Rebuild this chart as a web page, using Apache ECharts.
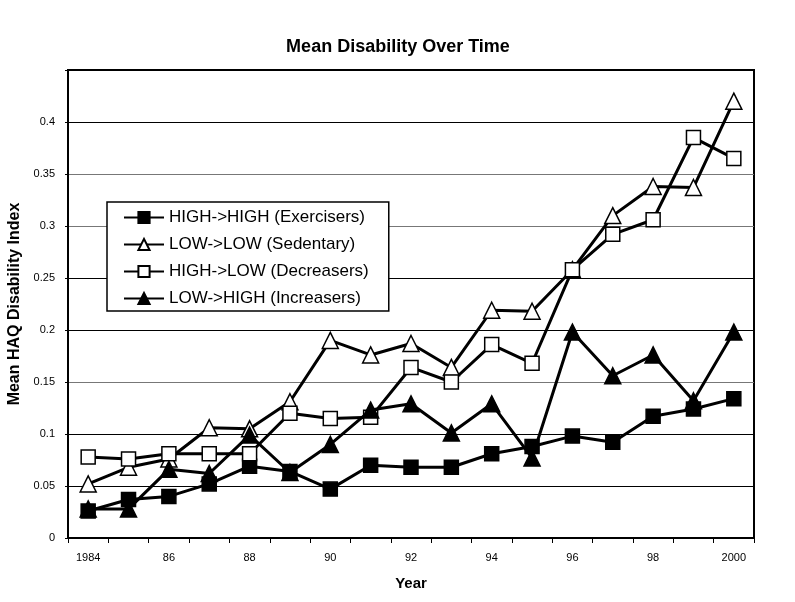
<!DOCTYPE html>
<html><head><meta charset="utf-8">
<script src="https://cdn.jsdelivr.net/npm/echarts@6/dist/echarts.min.js"></script>
<style>html,body{margin:0;padding:0;background:#fff}#c{width:795px;height:602px}</style>
</head><body><div id="c"></div>
<script>
const years = ['1984','1985','1986','1987','1988','1989','1990','1991','1992','1993','1994','1995','1996','1997','1998','1999','2000'];
const yTicks = [0,0.05,0.1,0.15,0.2,0.25,0.3,0.35,0.4];
const exercisers = [0.026,0.037,0.040,0.052,0.069,0.064,0.047,0.070,0.068,0.068,0.081,0.088,0.098,0.092,0.117,0.124,0.134];
const sedentary  = [0.052,0.068,0.076,0.106,0.105,0.131,0.190,0.176,0.187,0.164,0.219,0.218,0.258,0.310,0.338,0.337,0.420];
const decreasers = [0.078,0.076,0.081,0.081,0.081,0.120,0.115,0.116,0.164,0.150,0.186,0.168,0.258,0.292,0.306,0.385,0.365];
const increasers = [0.028,0.028,0.066,0.062,0.099,0.063,0.090,0.123,0.129,0.101,0.129,0.077,0.198,0.156,0.176,0.132,0.198];
const names = ['HIGH->HIGH (Exercisers)','LOW->LOW (Sedentary)','HIGH->LOW (Decreasers)','LOW->HIGH (Increasers)'];

const font = 'Liberation Sans, Arial, sans-serif';
function mk(name, data, symbol, filled, size){
  return {name, type:'line', data, symbol, symbolSize:size,
    lineStyle:{color:'#000', width:3},
    itemStyle:{color: filled?'#000':'#fff', borderColor:'#000', borderWidth:1.5},
    emphasis:{disabled:true}, animation:false, z: 3};
}
const chart = echarts.init(document.getElementById('c'), null, {renderer:'canvas'});
chart.setOption({
  animation:false,
  backgroundColor:'#fff',
  title:{text:'Mean Disability Over Time', left:393, top:33, textAlign:'center',
    textStyle:{fontFamily:font, fontSize:18, fontWeight:'bold', color:'#000'}},
  grid:{left:68, right:41, top:70, bottom:64, outerBoundsMode:'none', containLabel:false,
    show:true, borderColor:'#000', borderWidth:2, backgroundColor:'transparent'},
  legend:{orient:'vertical', left:107, top:202, padding:[7,20,4,16],
    itemWidth:40, itemHeight:14, itemGap:10,
    backgroundColor:'#fff', borderColor:'#000', borderWidth:1.5,
    textStyle:{fontFamily:font, fontSize:17, color:'#000'},
    data:names},
  xAxis:{type:'category', data:years, boundaryGap:true,
    name:'Year', nameLocation:'middle', nameGap:38,
    nameTextStyle:{fontFamily:font, fontSize:15, fontWeight:'bold', color:'#000'},
    axisLine:{lineStyle:{color:'#000', width:2}},
    axisTick:{show:true, alignWithLabel:false, interval:0, length:5, lineStyle:{color:'#000', width:1}},
    axisLabel:{interval:1, margin:14, fontFamily:font, fontSize:11, color:'#000',
      formatter:(v)=> (v==='1984'||v==='2000')? v : v.slice(2)}},
  yAxis:{type:'value', min:0, max:0.45, interval:0.05,
    name:'Mean HAQ Disability Index', nameLocation:'middle', nameGap:39, nameRotate:90,
    nameTextStyle:{fontFamily:font, fontSize:16, fontWeight:'bold', color:'#000'},
    axisLine:{show:true, lineStyle:{color:'#000', width:2}},
    axisTick:{show:true, length:3, lineStyle:{color:'#000', width:1}},
    splitLine:{show:true, lineStyle:{color:['#000','#000','#000','#777','#000','#000','#777','#777','#000','#000'], width:1}},
    axisLabel:{margin:13, fontFamily:font, fontSize:11, color:'#000',
      formatter:(v)=>{const t=yTicks.find(x=>Math.abs(x-v)<1e-9); return t===undefined?'':String(t);}}},
  series:[
    mk(names[0], exercisers, 'rect', true, 14),
    mk(names[1], sedentary, 'triangle', false, 16),
    mk(names[2], decreasers, 'rect', false, 14),
    mk(names[3], increasers, 'triangle', true, 16)
  ]
});
</script></body></html>
